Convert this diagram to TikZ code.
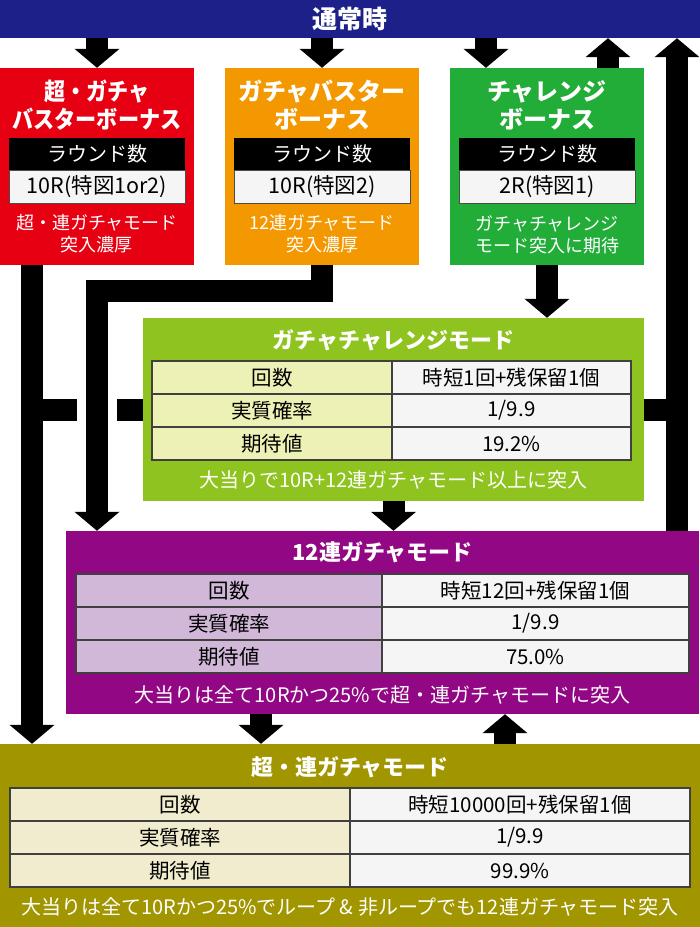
\documentclass[tikz,border=0pt]{standalone}
\usepackage{fontspec}
\setmainfont{Noto Sans CJK JP}[BoldFont={Noto Sans CJK JP Black}]
\definecolor{myNavy}{RGB}{29,32,136}
\definecolor{myRed}{RGB}{230,0,18}
\definecolor{myOrange}{RGB}{243,152,0}
\definecolor{myGreen}{RGB}{34,172,56}
\definecolor{myLime}{RGB}{143,195,31}
\definecolor{myPurple}{RGB}{146,7,131}
\definecolor{myOlive}{RGB}{161,150,0}
\definecolor{myLimeCell}{RGB}{238,241,182}
\definecolor{myPurpleCell}{RGB}{209,184,216}
\definecolor{myOliveCell}{RGB}{240,236,205}
\definecolor{myGrayCell}{RGB}{245,245,245}
\usepackage{graphicx}
\usepackage{tikz}
\usetikzlibrary{arrows.meta,positioning}

% left, split, right, top, left fill, three values
\newcommand{\spectable}[8]{%
  \fill[#5] (#1,#4) rectangle (#2,#4+99);
  \fill[myGrayCell] (#2,#4) rectangle (#3,#4+99);
  \draw[tblline] (#1,#4) rectangle (#3,#4+99);
  \draw[tblline] (#2,#4) -- (#2,#4+99);
  \draw[tblline] (#1,#4+33) -- (#3,#4+33);
  \draw[tblline] (#1,#4+66) -- (#3,#4+66);
  \node[cell] at ({(#1+#2)/2},#4+16.5) {回数};
  \node[cell] at ({(#1+#2)/2},#4+49.5) {実質確率};
  \node[cell] at ({(#1+#2)/2},#4+82.5) {期待値};
  \node[cell] at ({(#2+#3)/2},#4+16.5) {#6};
  \node[cell] at ({(#2+#3)/2},#4+49.5) {#7};
  \node[cell] at ({(#2+#3)/2},#4+82.5) {#8};
}

\begin{document}
\begin{tikzpicture}[x=1pt,y=-1pt,
    topbar/.style={fill=myNavy, text=white, minimum width=700pt, minimum height=38pt, inner sep=0pt, font=\bfseries\fontsize{25}{25}\selectfont},
    panel/.style={minimum width=194pt, minimum height=197pt, inner sep=0pt},
    modebox/.style={minimum height=183pt, inner sep=0pt},
    ptitle/.style={text=white, align=center, inner sep=0pt, font=\bfseries\fontsize{24}{28}\selectfont},
    band/.style={fill=black, text=white, minimum width=176pt, minimum height=32pt, inner sep=0pt, font=\fontsize{20}{20}\selectfont},
    valbox/.style={fill=myGrayCell, draw=black!70, line width=0.8pt, minimum width=176pt, minimum height=33pt, inner sep=0pt, font=\fontsize{21.5}{21.5}\selectfont},
    foot/.style={text=white, align=center, inner sep=0pt, font=\fontsize{18}{22}\selectfont},
    mtitle/.style={text=white, inner sep=0pt, font=\bfseries\fontsize{22}{22}\selectfont},
    mfoot/.style={text=white, inner sep=0pt, font=\fontsize{20}{20}\selectfont},
    cell/.style={inner sep=0pt, font=\fontsize{20.5}{20.5}\selectfont},
    tblline/.style={draw=black!75, line width=1.2pt},
    barrow/.style={line width=22pt, -{Triangle[width=44pt,length=19pt]}},
    link/.style={line width=22pt}]
  \useasboundingbox (0,0) rectangle (700,927);

  % normal state
  \node[topbar] (normal) at (350,19) {通常時};

  % bonus panels
  \node[panel, fill=myRed] (bonusA) at (97,166.5) {};
  \node[panel, fill=myOrange] (bonusB) at (322,166.5) {};
  \node[panel, fill=myGreen] (bonusC) at (547,166.5) {};

  \node[ptitle] at (97,105) {\scalebox{0.88}[1]{超・ガチャ}\\\scalebox{0.88}[1]{バスターボーナス}};
  \node[ptitle] at (322,105) {ガチャバスター\\ボーナス};
  \node[ptitle] at (547,105) {チャレンジ\\ボーナス};

  \node[band] at (97,154) {ラウンド数};
  \node[band] at (322,154) {ラウンド数};
  \node[band] at (547,154) {ラウンド数};
  \node[valbox] at (97,187) {10R(特図1or2)};
  \node[valbox] at (322,187) {10R(特図2)};
  \node[valbox] at (547,187) {2R(特図1)};

  \node[foot] at (97,234) {超・連ガチャモード\\突入濃厚};
  \node[foot] at (322,234) {12連ガチャモード\\突入濃厚};
  \node[foot] at (547,235) {ガチャチャレンジ\\モード突入に期待};

  % mode boxes
  \node[modebox, fill=myLime, minimum width=501pt] (chal) at (393.5,409.5) {};
  \node[modebox, fill=myPurple, minimum width=633pt] (ren12) at (382.5,622.5) {};
  \node[modebox, fill=myOlive, minimum width=700pt] (superren) at (350,835.5) {};

  \node[mtitle] at (393.5,340) {ガチャチャレンジモード};
  \spectable{152}{392}{631}{361}{myLimeCell}{時短1回+残保留1個}{1/9.9}{19.2\%}
  \node[mfoot] at (393.5,480) {大当りで10R+12連ガチャモード以上に突入};

  \node[mtitle] at (382.5,552) {12連ガチャモード};
  \spectable{76}{382}{689}{574}{myPurpleCell}{時短12回+残保留1個}{1/9.9}{75.0\%}
  \node[mfoot] at (382.5,695) {大当りは全て10Rかつ25\%で超・連ガチャモードに突入};

  \node[mtitle] at (350,767) {超・連ガチャモード};
  \spectable{10}{350}{690}{788}{myOliveCell}{時短10000回+残保留1個}{1/9.9}{99.9\%}
  \node[mfoot] at (350,907) {大当りは全て10Rかつ25\%でループ \& 非ループでも12連ガチャモード突入};

  % lanes
  \coordinate (laneRed) at (32,0);
  \coordinate (laneIn) at (486,0);
  \coordinate (laneBack) at (608,0);
  \coordinate (laneUp) at (677,0);
  \coordinate (laneDown) at (261,0);
  \coordinate (laneLoop) at (505,0);
  \coordinate (gapA) at (117,409.5);
  \coordinate (gapB) at (77,409.5);

  % arrows
  \draw[barrow] (normal.south -| bonusA) -- (bonusA.north);
  \draw[barrow] (normal.south -| bonusB) -- (bonusB.north);
  \draw[barrow] (normal.south -| laneIn) -- (bonusC.north -| laneIn);
  \draw[barrow] (bonusC.north -| laneBack) -- (normal.south -| laneBack);
  \draw[barrow] (ren12.north -| laneUp) -- (normal.south -| laneUp);
  \draw[barrow] (bonusA.south -| laneRed) -- (superren.north -| laneRed);
  \draw[barrow] (bonusB.south) -- ++(0,26) -| (ren12.north -| bonusA);
  \draw[barrow] (bonusC.south) -- (chal.north -| bonusC);
  \draw[barrow] (chal.south) -- (ren12.north -| chal);
  \draw[barrow] (ren12.south -| laneDown) -- (superren.north -| laneDown);
  \draw[barrow] (superren.north -| laneLoop) -- (ren12.south -| laneLoop);
  \draw[link] (chal.west) -- (gapA);
  \draw[link] (gapB) -- (chal.west -| laneRed);
  \draw[link] (chal.east) -- (chal.east -| laneUp);
\end{tikzpicture}
\end{document}
